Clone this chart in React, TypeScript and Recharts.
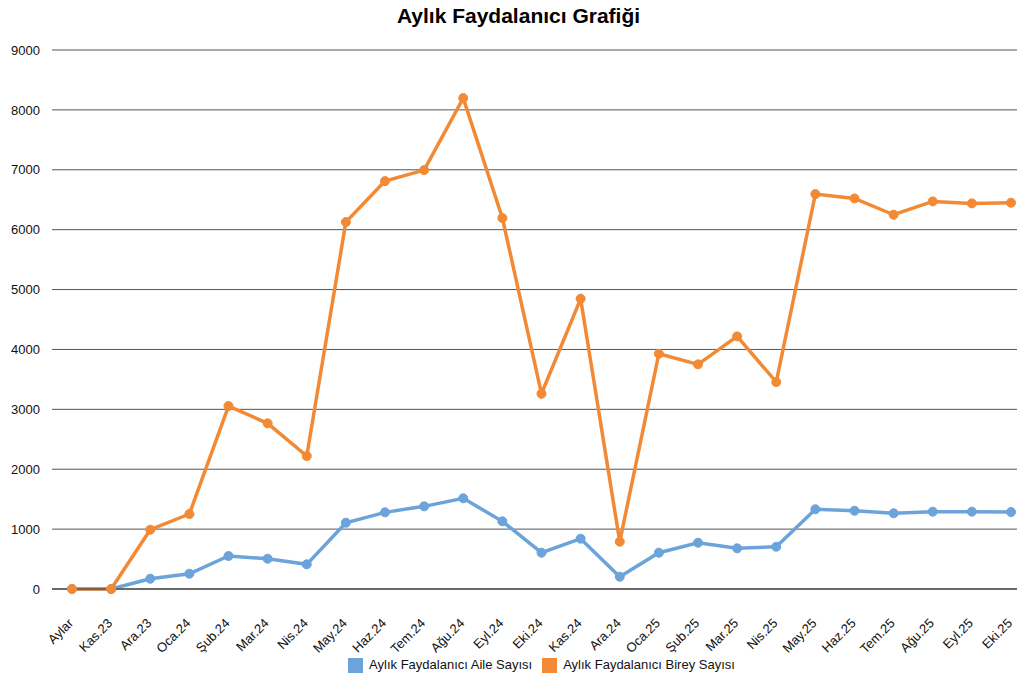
import React from 'react';
import { LineChart, Line, XAxis, YAxis, CartesianGrid, Legend } from 'recharts';

const months = [
  'Aylar', 'Kas.23', 'Ara.23', 'Oca.24', 'Şub.24', 'Mar.24', 'Nis.24', 'May.24', 'Haz.24',
  'Tem.24', 'Ağu.24', 'Eyl.24', 'Eki.24', 'Kas.24', 'Ara.24', 'Oca.25', 'Şub.25', 'Mar.25',
  'Nis.25', 'May.25', 'Haz.25', 'Tem.25', 'Ağu.25', 'Eyl.25', 'Eki.25',
];

const aileSayisi = [
  0, 0, 172, 255, 551, 506, 412, 1107, 1280, 1380, 1514, 1130, 606, 840, 205, 606, 773, 679,
  706, 1331, 1307, 1264, 1291, 1291, 1285,
];

const bireySayisi = [
  0, 0, 990, 1252, 3055, 2766, 2220, 6127, 6811, 6995, 8197, 6194, 3260, 4846, 790, 3928, 3751,
  4218, 3456, 6594, 6522, 6249, 6472, 6439, 6450,
];

const yTicks = [0, 1000, 2000, 3000, 4000, 5000, 6000, 7000, 8000, 9000];

const data = months.map((m, i) => ({
  month: m,
  aile: aileSayisi[i],
  birey: bireySayisi[i],
}));

const FONT = '"Liberation Sans", Arial, Helvetica, sans-serif';
const BLUE = '#6BA3DA';
const ORANGE = '#F28A35';

function MonthTick(props: any) {
  const { x, y, payload } = props;
  const ax = x + 2;
  const ay = y + 27;
  return (
    <text
      x={ax}
      y={ay}
      textAnchor="end"
      fontSize={13}
      fontFamily={FONT}
      fill="#111"
      transform={`rotate(-45, ${ax}, ${ay})`}
    >
      {payload.value}
    </text>
  );
}

export default function App() {
  return (
    <div style={{ position: 'absolute', left: 0, top: 0, width: 1017, height: 680, background: '#fff' }}>
      <div
        style={{
          position: 'absolute',
          top: 4,
          left: 10,
          width: 1017,
          textAlign: 'center',
          fontFamily: FONT,
          fontWeight: 'bold',
          fontSize: 21,
          color: '#000',
        }}
      >
        Aylık Faydalanıcı Grafiği
      </div>
      <LineChart
        width={1017}
        height={680}
        data={data}
        margin={{ top: 50, right: 0, bottom: 0, left: 0 }}
      >
        <CartesianGrid vertical={false} stroke="#555" strokeWidth={1} />
        <XAxis
          dataKey="month"
          padding={{ left: 20, right: 6 }}
          interval={0}
          height={61}
          tickLine={false}
          axisLine={{ stroke: '#555', strokeWidth: 1.5 }}
          tick={<MonthTick />}
        />
        <YAxis
          domain={[0, 9000]}
          ticks={yTicks}
          width={52}
          axisLine={false}
          tickLine={false}
          tickSize={0}
          tickMargin={12}
          tick={{ fontSize: 13, fontFamily: FONT, fill: '#111' }}
        />
        <Legend
          verticalAlign="bottom"
          height={30}
          iconType="square"
          iconSize={15}
          wrapperStyle={{ fontFamily: FONT, fontSize: 13, color: '#111', top: 657, left: 38 }}
          formatter={(value: string) => <span style={{ color: '#111', marginLeft: 2 }}>{value}</span>}
        />
        <Line
          type="linear"
          dataKey="aile"
          name="Aylık Faydalanıcı Aile Sayısı"
          stroke={BLUE}
          strokeWidth={3.5}
          dot={{ r: 4.5, fill: BLUE, stroke: BLUE, strokeWidth: 1 }}
          activeDot={false}
          isAnimationActive={false}
        />
        <Line
          type="linear"
          dataKey="birey"
          name="Aylık Faydalanıcı Birey Sayısı"
          stroke={ORANGE}
          strokeWidth={3.5}
          dot={{ r: 4.5, fill: ORANGE, stroke: ORANGE, strokeWidth: 1 }}
          activeDot={false}
          isAnimationActive={false}
        />
      </LineChart>
    </div>
  );
}
